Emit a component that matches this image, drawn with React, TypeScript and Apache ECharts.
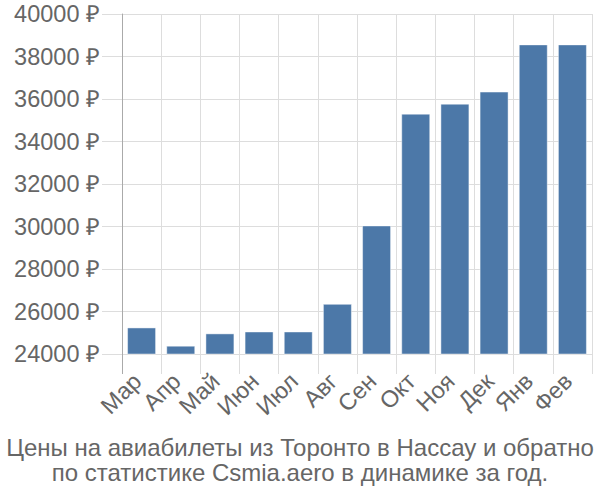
import React, { useEffect, useRef } from "react";
import * as echarts from "echarts";

const months = ["Мар", "Апр", "Май", "Июн", "Июл", "Авг", "Сен", "Окт", "Ноя", "Дек", "Янв", "Фев"];
const prices = [25250, 24390, 24970, 25060, 25060, 26360, 30050, 35310, 35780, 36350, 38570, 38570];
const titleLines = [
  "Цены на авиабилеты из Торонто в Нассау и обратно",
  "по статистике Csmia.aero в динамике за год.",
];

const FONT = "Liberation Sans";

export default function App() {
  const ref = useRef<HTMLDivElement>(null);
  useEffect(() => {
    if (!ref.current) return;
    const chart = echarts.init(ref.current, undefined, { renderer: "svg" });
    chart.setOption({
      animation: false,
      textStyle: { fontFamily: FONT },
      graphic: [
        {
          type: "text",
          x: 300,
          y: 434.5,
          style: {
            text: titleLines.join("\n"),
            fontFamily: FONT,
            fontSize: 24,
            lineHeight: 25,
            fill: "#666",
            align: "center",
            verticalAlign: "top",
          },
        },
        {
          type: "line",
          shape: { x1: 122.5, y1: 354, x2: 122.5, y2: 374 },
          style: { stroke: "#aaa", lineWidth: 1 },
          z: 10,
        },
      ],
      grid: { left: 122, right: 8, top: 14, bottom: 146, containLabel: false },
      xAxis: {
        type: "category",
        data: months,
        axisLine: { show: true, lineStyle: { color: "#ddd", width: 1 } },
        axisTick: { show: true, alignWithLabel: false, length: 20, lineStyle: { color: "#ddd" } },
        splitLine: { show: true, lineStyle: { color: "#ddd" } },
        axisLabel: { rotate: 45, margin: 19, padding: [0, 6, 0, 0], fontSize: 23.5, color: "#666", fontFamily: FONT, interval: 0 },
      },
      yAxis: {
        type: "value",
        min: 24000,
        max: 40000,
        interval: 2000,
        axisLine: { show: true, lineStyle: { color: "#aaa", width: 1 } },
        axisTick: { show: true, length: 20, lineStyle: { color: "#ddd" } },
        splitLine: { show: true, lineStyle: { color: "#ddd" } },
        axisLabel: { margin: 22, fontSize: 23.5, color: "#666", fontFamily: FONT, formatter: (v: number) => v + " ₽" },
      },
      series: [
        {
          type: "bar",
          data: prices,
          barWidth: 29,
          itemStyle: { color: "#4c78a8", borderColor: "rgba(255,255,255,0.45)", borderWidth: 1 },
        },
      ],
    });
    return () => chart.dispose();
  }, []);
  return <div ref={ref} style={{ position: "absolute", left: 0, top: 0, width: 600, height: 500 }} />;
}
